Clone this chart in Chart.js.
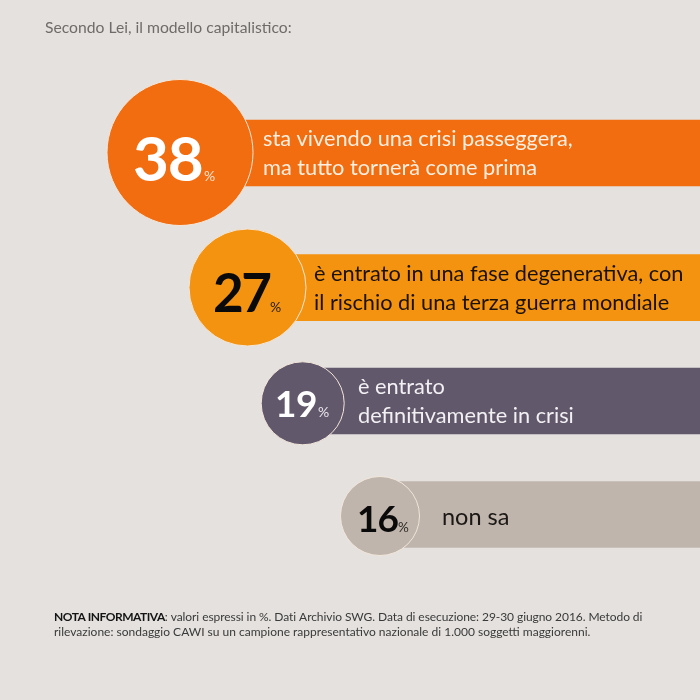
<!DOCTYPE html>
<html lang="it">
<head>
<meta charset="utf-8">
<title>Secondo Lei, il modello capitalistico</title>
<script src="https://cdn.jsdelivr.net/npm/chart.js@4"></script>
<style>
  html, body { margin: 0; padding: 0; background: #e4e1de; }
  canvas { display: block; }
</style>
</head>
<body>
<canvas id="c" width="700" height="700"></canvas>
<script>
// ---- data ----
const values = [38, 27, 19, 16];
const answers = [
  ["sta vivendo una crisi passeggera,", "ma tutto tornerà come prima"],
  ["è entrato in una fase degenerativa, con", "il rischio di una terza guerra mondiale"],
  ["è entrato", "definitivamente in crisi"],
  ["non sa"]
];
const heading = "Secondo Lei, il modello capitalistico:";
const noteBold = "NOTA INFORMATIVA";
const noteLines = [
  ": valori espressi in %. Dati Archivio SWG. Data di esecuzione: 29-30 giugno 2016. Metodo di",
  "rilevazione: sondaggio CAWI su un campione rappresentativo nazionale di 1.000 soggetti maggiorenni."
];

// ---- layout of the infographic, in axis units ----
const circleX = [180, 247.5, 302.7, 380];
const circleY = [152.5, 287.5, 403.3, 516];
const circleR = [73, 58.5, 41.5, 39.5];
const barY = [153, 287.7, 401, 514.5];
const barEnd = 700;
const fills = ["#f26c10", "#f4930f", "#62586c", "#bfb5ac"];
const numberInk = ["#ffffff", "#0a0a0a", "#ffffff", "#0a0a0a"];
const percentInk = ["#fbe3cf", "#2a2018", "#e9e6ec", "#2e2a26"];
const answerInk = ["#fdf0e2", "#1a1208", "#f2f0f3", "#1a1714"];
const numberStyle = [
  { size: 62, spacing: -1.2, x: 133, y: 181, pSize: 14, px: 204 },
  { size: 53, spacing: -2.5, x: 213, y: 312, pSize: 14, px: 270 },
  { size: 37, spacing: -0.5, x: 275, y: 417, pSize: 14, px: 318 },
  { size: 37, spacing: -1, x: 357, y: 532, pSize: 13.5, px: 398 }
];
const answerStyle = [
  { x: 263, y: [146, 175], size: 21.75 },
  { x: 314, y: [281, 310], size: 21.75 },
  { x: 358, y: [394, 423], size: 21.75 },
  { x: 442, y: [525], size: 23.5 }
];

const FONT = "Lato, 'Open Sans', sans-serif";

const textPlugin = {
  id: "infographicText",
  afterDatasetsDraw(chart) {
    const { ctx, scales: { x, y } } = chart;
    ctx.save();
    ctx.textBaseline = "alphabetic";
    ctx.textAlign = "left";

    ctx.fillStyle = "#6f6b69";
    ctx.font = "15.7px " + FONT;
    ctx.fillText(heading, x.getPixelForValue(45), y.getPixelForValue(33));

    values.forEach((v, i) => {
      const n = numberStyle[i];
      ctx.fillStyle = numberInk[i];
      ctx.font = "bold " + n.size + "px " + FONT;
      ctx.letterSpacing = n.spacing + "px";
      ctx.fillText(String(v), x.getPixelForValue(n.x), y.getPixelForValue(n.y));
      ctx.letterSpacing = "0px";
      ctx.fillStyle = percentInk[i];
      ctx.font = n.pSize + "px " + FONT;
      ctx.fillText("%", x.getPixelForValue(n.px), y.getPixelForValue(n.y));

      const a = answerStyle[i];
      ctx.fillStyle = answerInk[i];
      ctx.font = a.size + "px " + FONT;
      answers[i].forEach((line, j) => {
        ctx.fillText(line, x.getPixelForValue(a.x), y.getPixelForValue(a.y[j]));
      });
    });

    ctx.fillStyle = "#141414";
    ctx.font = "bold 12px " + FONT;
    ctx.letterSpacing = "-0.5px";
    const nx = x.getPixelForValue(54);
    ctx.fillText(noteBold, nx, y.getPixelForValue(621));
    const w = ctx.measureText(noteBold).width;
    ctx.letterSpacing = "-0.07px";
    ctx.fillStyle = "#3a3a3a";
    ctx.font = "12px " + FONT;
    ctx.fillText(noteLines[0], nx + w, y.getPixelForValue(621));
    ctx.letterSpacing = "0px";
    ctx.fillText(noteLines[1], nx, y.getPixelForValue(636));
    ctx.restore();
  }
};

new Chart(document.getElementById("c"), {
  data: {
    datasets: [
      {
        type: "bar",
        indexAxis: "y",
        order: 2,
        barThickness: 66,
        borderWidth: 0,
        backgroundColor: fills,
        data: values.map((v, i) => ({ x: [circleX[i], barEnd], y: barY[i] }))
      },
      {
        type: "bubble",
        order: 1,
        backgroundColor: fills,
        borderColor: "#f2e6da",
        borderWidth: 1,
        data: values.map((v, i) => ({ x: circleX[i], y: circleY[i], r: circleR[i] }))
      }
    ]
  },
  options: {
    responsive: false,
    animation: false,
    devicePixelRatio: 1,
    layout: { padding: 0, autoPadding: false },
    scales: {
      x: { type: "linear", display: false, min: 0, max: 700, offset: false },
      y: { type: "linear", display: false, min: 0, max: 700, reverse: true, offset: false }
    },
    plugins: { legend: { display: false }, tooltip: { enabled: false }, title: { display: false } }
  },
  plugins: [textPlugin]
});
</script>
</body>
</html>
